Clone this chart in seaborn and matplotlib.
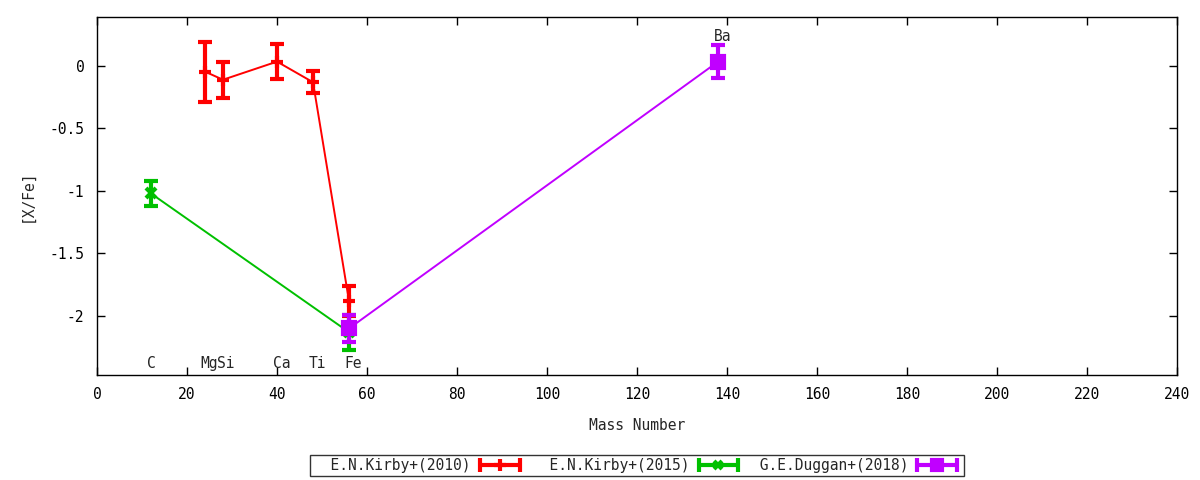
import matplotlib
matplotlib.use('Agg')
import matplotlib.pyplot as plt
import seaborn as sns
import numpy as np
import pandas as pd
from matplotlib.lines import Line2D
from matplotlib.legend_handler import HandlerLine2D, HandlerTuple

# Kirby+ 2010
k10_mass = [24, 28, 40, 48, 56]
k10_xfe = [-0.045, -0.11, 0.035, -0.13, -1.88]
k10_err = [0.24, 0.145, 0.14, 0.09, 0.12]

# Kirby+ 2015
k15_mass = [12, 56]
k15_xfe = [-1.02, -2.13]
k15_err = [0.10, 0.14]

# Duggan+ 2018
d18_mass = [56, 138]
d18_xfe = [-2.10, 0.035]
d18_err = [0.105, 0.13]

# element labels
elem_names = ['C', 'Mg', 'Si', 'Ca', 'Ti', 'Fe', 'Ba']
elem_x = [12, 25, 28.6, 41, 49, 57, 139]
elem_y = [-2.38, -2.38, -2.38, -2.38, -2.38, -2.38, 0.235]

sns.set_style('white')
plt.rcParams['font.family'] = ['DejaVu Sans Mono', 'DejaVu Sans']
plt.rcParams['font.size'] = 10.5

fig = plt.figure(figsize=(12, 4.8), dpi=100)
ax = fig.add_axes([0.0808, 0.2188, 0.9002, 0.7458])

series = [
    ('E.N.Kirby+(2010)', k10_mass, k10_xfe, k10_err, '#ff0000', '+', 9),
    ('E.N.Kirby+(2015)', k15_mass, k15_xfe, k15_err, '#00c000', 'x', 7),
    ('G.E.Duggan+(2018)', d18_mass, d18_xfe, d18_err, '#c000ff', 's', 8),
]

for name, xs, ys, es, col, mk, sz in series:
    df = pd.DataFrame({'mass': xs, 'xfe': ys})
    sns.lineplot(data=df, x='mass', y='xfe', ax=ax, color=col, lw=1.4,
                 sort=False, estimator=None)
    ax.errorbar(xs, ys, yerr=es, fmt=mk, color=col, ecolor=col,
                elinewidth=3, capsize=5, capthick=3, ms=sz, mew=3,
                zorder=3)

for t, x, y in zip(elem_names, elem_x, elem_y):
    ax.text(x, y, t, ha='center', va='center')

ax.set_xlim(0, 240)
ax.set_ylim(-2.472, 0.392)
ax.set_xticks(np.arange(0, 241, 20))
ax.set_yticks([0, -0.5, -1, -1.5, -2])
ax.set_yticklabels(['0', '-0.5', '-1', '-1.5', '-2'])
ax.tick_params(direction='in', length=6, width=1, top=True, right=True,
               bottom=True, left=True, pad=9, colors='black')
for s in ax.spines.values():
    s.set_color('black')
    s.set_linewidth(1)
ax.set_xlabel('Mass Number', labelpad=11)
ax.set_ylabel('[X/Fe]', labelpad=11)

# legend: gnuplot style, text first then a horizontal errorbar sample
leg_h = []
hmap = {}
for name, xs, ys, es, col, mk, sz in series:
    caps = Line2D([0], [0], color=col, lw=3, marker='|', ms=10, mew=3)
    pt = Line2D([0], [0], color=col, lw=0, marker=mk, ms=sz - 1, mew=3)
    hmap[caps] = HandlerLine2D(numpoints=2)
    hmap[pt] = HandlerLine2D(numpoints=1)
    leg_h.append((caps, pt))
hmap[tuple] = HandlerTuple(ndivide=1, pad=0)
leg_labels = ['  E.N.Kirby+(2010)', '  E.N.Kirby+(2015)', ' G.E.Duggan+(2018)']
leg = fig.legend(leg_h, leg_labels, loc='center', handler_map=hmap,
                 bbox_to_anchor=(0.531, 0.031), ncol=3, markerfirst=False,
                 frameon=True, fancybox=False, edgecolor='black',
                 handlelength=3.3, columnspacing=0.55, borderpad=0.2,
                 handletextpad=0.34, borderaxespad=0)
leg.get_frame().set_linewidth(1)

fig.savefig('out.png', dpi=100)
